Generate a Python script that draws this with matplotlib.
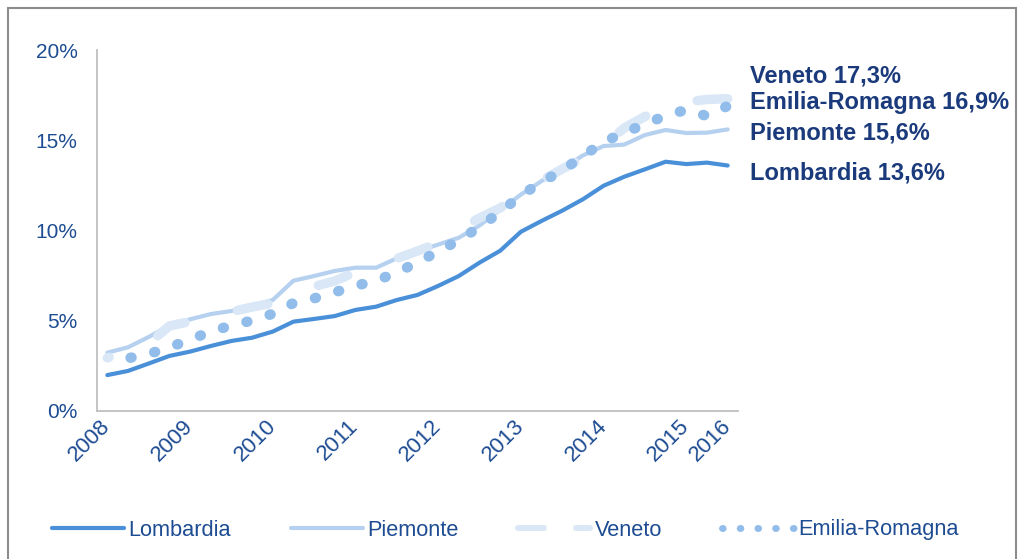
import matplotlib
matplotlib.use("Agg")
import matplotlib.pyplot as plt
from matplotlib.lines import Line2D
from matplotlib.patches import Rectangle

plt.rcParams['font.family'] = ['Liberation Sans', 'DejaVu Sans']

# Quarterly series, 2008 onwards (percent)
quarters = list(range(31))
year_labels = ["2008", "", "", "", "2009", "", "", "", "2010", "", "", "",
               "2011", "", "", "", "2012", "", "", "", "2013", "", "", "",
               "2014", "", "", "", "2015", "", "2016"]

lombardia = [1.99, 2.22, 2.63, 3.05, 3.29, 3.60, 3.88, 4.06, 4.40, 4.95, 5.10,
             5.26, 5.60, 5.78, 6.15, 6.43, 6.93, 7.48, 8.22, 8.88, 9.93, 10.53,
             11.10, 11.73, 12.48, 12.98, 13.39, 13.81, 13.68, 13.76, 13.6]
piemonte = [3.23, 3.53, 4.10, 4.74, 5.08, 5.37, 5.54, 5.82, 6.15, 7.22, 7.48,
            7.76, 7.94, 7.94, 8.46, 8.84, 9.22, 9.60, 10.28, 11.14, 11.99, 12.74,
            13.42, 14.16, 14.68, 14.76, 15.29, 15.57, 15.40, 15.42, 15.6]
veneto = [2.94, 3.35, 3.74, 4.71, 4.96, 5.26, 5.50, 5.76, 5.98, 6.48, 6.90,
          7.20, 7.70, 8.09, 8.45, 8.86, 9.31, 10.08, 10.69, 11.25, 12.02, 12.77,
          13.41, 14.02, 14.74, 15.68, 16.32, 16.73, 17.12, 17.26, 17.3]
emilia = [2.92, 2.92, 3.16, 3.52, 3.96, 4.40, 4.74, 5.01, 5.39, 5.98, 6.24,
          6.58, 6.93, 7.23, 7.66, 8.25, 8.83, 9.47, 10.19, 11.03, 11.94, 12.69,
          13.32, 14.13, 14.90, 15.43, 15.88, 16.37, 16.68, 16.34, 16.9]

series_names = ["Lombardia", "Piemonte", "Veneto", "Emilia-Romagna"]
end_labels = ["Veneto 17,3%", "Emilia-Romagna 16,9%", "Piemonte 15,6%", "Lombardia 13,6%"]

c_lom = "#4a90d9"
c_pie = "#b6d1f0"
c_ven = "#dae7f7"
c_emi = "#92bdea"
c_text = "#1d4c92"
c_bold = "#1a3a7c"

fig = plt.figure(figsize=(10.24, 5.59), dpi=100)
ax = fig.add_axes([97 / 1024, 1 - 411 / 559, (738 - 97) / 1024, (411 - 50) / 559])

ax.plot(quarters, lombardia, color=c_lom, lw=3.0, solid_capstyle="round",
        solid_joinstyle="round", zorder=3)
ax.plot(quarters, piemonte, color=c_pie, lw=3.0, solid_capstyle="round",
        solid_joinstyle="round", zorder=3)
ax.plot(quarters, veneto, color=c_ven, lw=6.8, linestyle=(3.1, (3.3, 5.7)),
        dash_capstyle="round", dash_joinstyle="round", zorder=4)
ax.plot(quarters, emilia, color=c_emi, lw=7.5, linestyle=(0.1, (0.1, 2.233)),
        dash_capstyle="round", zorder=5)

ax.set_xlim(-0.5, 30.5)
ax.set_ylim(0, 20)
ax.set_yticks([0, 5, 10, 15, 20])
ax.set_yticklabels([f"{v}%" for v in [0, 5, 10, 15, 20]])
tick_idx = [i for i, s in enumerate(year_labels) if s]
ax.set_xticks(tick_idx)
ax.set_xticklabels([year_labels[i] for i in tick_idx], rotation=45,
                   ha="right", va="center", rotation_mode="anchor")

ax.tick_params(axis="both", length=0, labelcolor=c_text)
ax.tick_params(axis="y", pad=14, labelsize=15)
ax.tick_params(axis="x", pad=9, labelsize=16)
for side in ["top", "right"]:
    ax.spines[side].set_visible(False)
for side in ["left", "bottom"]:
    ax.spines[side].set_color("#bfbfbf")
    ax.spines[side].set_linewidth(1.3)

# End-of-series labels
label_y = [76, 103, 133, 173]
for txt, yp in zip(end_labels, label_y):
    fig.text(750 / 1024, 1 - yp / 559, txt, ha="left", va="center",
             fontsize=17, fontweight="bold", color=c_bold)

# Legend
handles = [
    Line2D([], [], color=c_lom, lw=3.0, solid_capstyle="round"),
    Line2D([], [], color=c_pie, lw=3.0, solid_capstyle="round"),
    Line2D([], [], color=c_ven, lw=4.3, linestyle=(0, (4.35, 5.35)),
           dash_capstyle="round"),
    Line2D([], [], color=c_emi, lw=5.0, linestyle=(0, (0.1, 2.45)),
           dash_capstyle="round"),
]
leg = fig.legend(handles, series_names, loc="center left",
                 bbox_to_anchor=(52 / 1024, 1 - 530 / 559), ncol=4,
                 frameon=False, fontsize=15.7, handlelength=3.3,
                 handletextpad=0.2, columnspacing=2.74, borderpad=0,
                 borderaxespad=0)
for t in leg.get_texts():
    t.set_color(c_text)

# Outer frame
fig.patches.append(Rectangle((8 / 1024, -0.05), (1016 - 8) / 1024, 1.05 - 8 / 559,
                             transform=fig.transFigure, fill=False,
                             edgecolor="#8c8c8c", lw=1.5))

fig.savefig("out.png", dpi=100)
